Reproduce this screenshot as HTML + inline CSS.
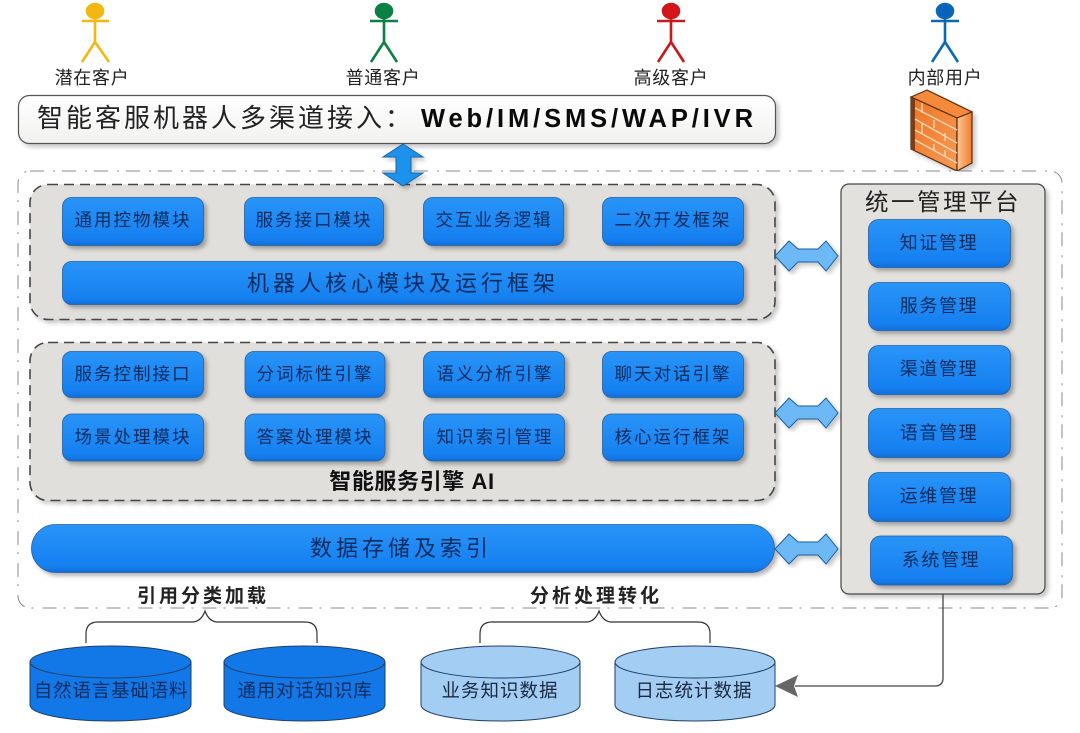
<!DOCTYPE html>
<html lang="zh"><head><meta charset="utf-8"><title>智能客服机器人架构图</title>
<style>
html,body{margin:0;padding:0;background:#fff}
svg{display:block;filter:blur(.35px)}
text{font-family:"Liberation Sans","Noto Sans CJK SC",sans-serif;text-anchor:middle}
.b{fill:url(#blue);stroke:#2a5f9c;stroke-width:.8;filter:url(#sh)}
.t{font-size:17.5px;letter-spacing:2px;fill:#0b2c60}
.m{font-size:18px;letter-spacing:1.6px;fill:#0b2c60}
.a{font-size:18px;letter-spacing:.7px;fill:#222}
.h{font-size:19px;font-weight:700;letter-spacing:3px;fill:#222}
.c{font-size:18.500px;letter-spacing:.8px;fill:#0b2c60}
.d{font-size:18.500px;letter-spacing:1px;fill:#1a2a40}
.g{fill:#e0dfdb;stroke:#444;stroke-width:1.6;stroke-dasharray:10 6;filter:url(#sh2)}
.ar{fill:#6cb9f5;stroke:#1d5f9c;stroke-width:1;filter:url(#sh2)}
</style></head><body>
<svg width="1080" height="733" viewBox="0 0 1080 733" xmlns="http://www.w3.org/2000/svg">
<defs>
<linearGradient id="blue" x1="0" y1="0" x2="0" y2="1"><stop offset="0" stop-color="#2994f8"/><stop offset=".85" stop-color="#1680f0"/><stop offset="1" stop-color="#0f6fdc"/></linearGradient>
<linearGradient id="white" x1="0" y1="0" x2="0" y2="1"><stop offset="0" stop-color="#fff"/><stop offset="1" stop-color="#f1f1f0"/></linearGradient>
<linearGradient id="fw" x1="0" y1="0" x2="1" y2="1"><stop offset="0" stop-color="#ee7422"/><stop offset="1" stop-color="#f79a55"/></linearGradient>
<linearGradient id="fwr" x1="0" y1="0" x2="1" y2="0"><stop offset="0" stop-color="#fcc79a"/><stop offset="1" stop-color="#f07c28"/></linearGradient>
<filter id="sh" x="-10%" y="-15%" width="125%" height="140%"><feDropShadow dx="3" dy="3" stdDeviation="2" flood-color="#000" flood-opacity=".3"/></filter>
<filter id="sh2" x="-10%" y="-10%" width="125%" height="125%"><feDropShadow dx="3" dy="3" stdDeviation="2" flood-color="#000" flood-opacity=".22"/></filter>
</defs>

<!-- actors -->
<g fill="none" stroke-width="2.6">
<g stroke="#f2b713"><ellipse cx="95" cy="11" rx="8" ry="7" fill="#f2b713"/><path d="M79 21H106M92 17V42L79 62M92 42L106 62" transform="translate(3 0) scale(1 1)"/></g>
<g stroke="#0a8043"><ellipse cx="384" cy="11" rx="8" ry="7" fill="#0a8043"/><path d="M370 21H398M384 17V42L371 62M384 42L397 62"/></g>
<g stroke="#c8171d"><ellipse cx="671" cy="11" rx="8" ry="7" fill="#d7141a"/><path d="M657 21H685M671 17V42L658 62M671 42L684 62"/></g>
<g stroke="#0b68b5"><ellipse cx="945" cy="11" rx="8" ry="7" fill="#0b62bd"/><path d="M931 21H959M945 17V42L932 62M945 42L958 62"/></g>
</g>
<text class="a" x="92" y="84">潜在客户</text>
<text class="a" x="383" y="84">普通客户</text>
<text class="a" x="671" y="84">高级客户</text>
<text class="a" x="945" y="84">内部用户</text>

<!-- top bar -->
<rect x="18.5" y="95.5" width="757" height="48" rx="11" fill="url(#white)" stroke="#555" stroke-width="1.2" filter="url(#sh2)"/>
<text x="37" y="127" style="text-anchor:start;font-size:26px;letter-spacing:3px;fill:#222">智能客服机器人多渠道接入：</text>
<text x="421" y="127" textLength="332" lengthAdjust="spacing" style="text-anchor:start;font-size:25.500px;font-weight:700;fill:#0a0a0a">Web/IM/SMS/WAP/IVR</text>

<!-- firewall -->
<g filter="url(#sh2)">
<polygon points="911,97 927,90 972,112 957,118" fill="#f58a3c" stroke="#5a2c0d" stroke-width="1.200"/>
<polygon points="911,97 957,118 957,171 911,149" fill="url(#fw)" stroke="#5a2c0d" stroke-width="1.200"/>
<polygon points="911,97 915,99 915,151 911,149" fill="#7a3d12"/>
<polygon points="957,118 972,112 972,163 957,171" fill="url(#fwr)" stroke="#5a2c0d" stroke-width="1.200"/>
<path d="M915 108L957 130M915 119L957 143M915 130L957 153M915 140L957 163M922 103L922 113M934 120L934 128M945 133L945 141M922 123L922 133M934 144L934 150M945 150L945 157" stroke="#fdd9ba" stroke-width="1.300" fill="none"/>
</g>

<!-- outer dashed container -->
<rect x="18" y="171" width="1044" height="437" rx="12" fill="#fff" stroke="#888" stroke-width="1" stroke-dasharray="14 9 2 7"/>

<!-- groups -->
<rect class="g" x="30" y="184.500" width="745" height="135" rx="18"/>
<rect class="g" x="30" y="342.500" width="745" height="158" rx="18"/>

<!-- vertical double arrow -->
<polygon points="403,144 423,157 411,157 411,173 423,173 403,186 383,173 396,173 396,157 383,157" fill="#1b92ec" stroke="#1465a8" stroke-width="1" filter="url(#sh2)"/>

<!-- row 1 -->
<rect class="b" x="62.500" y="197.500" width="141" height="48" rx="9"/>
<rect class="b" x="244.500" y="197.500" width="139" height="48" rx="9"/>
<rect class="b" x="423.500" y="197.500" width="140" height="48" rx="9"/>
<rect class="b" x="602.500" y="197.500" width="141" height="48" rx="9"/>
<text class="t" x="133" y="226">通用控物模块</text>
<text class="t" x="314" y="226">服务接口模块</text>
<text class="t" x="494" y="226">交互业务逻辑</text>
<text class="t" x="673" y="226">二次开发框架</text>
<rect class="b" x="62.500" y="261.500" width="681" height="43" rx="9"/>
<text x="403" y="291" style="font-size:22px;letter-spacing:4px;fill:#0b2c60">机器人核心模块及运行框架</text>

<!-- row 2 -->
<rect class="b" x="62.500" y="351.500" width="141" height="46" rx="9"/>
<rect class="b" x="245" y="351.500" width="140" height="46" rx="9"/>
<rect class="b" x="423.500" y="351.500" width="141" height="46" rx="9"/>
<rect class="b" x="602.500" y="351.500" width="141" height="46" rx="9"/>
<text class="t" x="133" y="380">服务控制接口</text>
<text class="t" x="315" y="380">分词标性引擎</text>
<text class="t" x="495" y="380">语义分析引擎</text>
<text class="t" x="673" y="380">聊天对话引擎</text>
<!-- row 3 -->
<rect class="b" x="62.500" y="414" width="141" height="47" rx="9"/>
<rect class="b" x="245" y="414" width="140" height="47" rx="9"/>
<rect class="b" x="423.500" y="414" width="141" height="47" rx="9"/>
<rect class="b" x="602.500" y="414" width="141" height="47" rx="9"/>
<text class="t" x="133" y="443">场景处理模块</text>
<text class="t" x="315" y="443">答案处理模块</text>
<text class="t" x="495" y="443">知识索引管理</text>
<text class="t" x="673" y="443">核心运行框架</text>
<text x="412" y="489" style="font-size:22px;font-weight:700;letter-spacing:.6px;fill:#111">智能服务引擎 AI</text>

<!-- data bar -->
<rect class="b" x="31.500" y="524.500" width="743" height="48" rx="24"/>
<text x="401" y="556" style="font-size:22px;letter-spacing:4px;fill:#0b2c60">数据存储及索引</text>

<!-- horizontal arrows -->
<polygon class="ar" points="775,256 789,241 798,249 818,249 826,241 838,256 826,271 818,262 798,262 789,271"/>
<polygon class="ar" points="775,413 789,398 798,406 818,406 826,398 838,413 826,428 818,419 798,419 789,428"/>
<polygon class="ar" points="775,549 789,534 798,542 818,542 826,534 838,549 826,564 818,555 798,555 789,564"/>

<!-- management panel -->
<rect x="841" y="184" width="204" height="410" rx="8" fill="#e2e1de" stroke="#444" stroke-width="1.200" filter="url(#sh2)"/>
<text x="943" y="210" style="font-size:23.500px;letter-spacing:2.500px;fill:#222">统一管理平台</text>
<rect class="b" x="868.500" y="219.500" width="142" height="48" rx="10"/>
<rect class="b" x="868.500" y="282.500" width="142" height="48" rx="10"/>
<rect class="b" x="868.500" y="345.500" width="142" height="49" rx="10"/>
<rect class="b" x="868.500" y="408.500" width="142" height="49" rx="10"/>
<rect class="b" x="868.500" y="472.500" width="142" height="49" rx="10"/>
<rect class="b" x="870.500" y="536" width="142" height="49" rx="10"/>
<text class="m" x="939" y="249">知证管理</text>
<text class="m" x="939" y="312">服务管理</text>
<text class="m" x="939" y="375">渠道管理</text>
<text class="m" x="939" y="439">语音管理</text>
<text class="m" x="939" y="502">运维管理</text>
<text class="m" x="941" y="566">系统管理</text>

<!-- group labels and braces -->
<text class="h" x="203" y="602">引用分类加载</text>
<text class="h" x="596" y="602">分析处理转化</text>
<g fill="none" stroke="#333" stroke-width="1.200">
<path d="M86 643V634Q86 622 98 622H192Q201 622 205 611Q209 622 218 622H305Q317 622 317 634V643"/>
<path d="M480 643V634Q480 622 492 622H586Q595 622 599 611Q603 622 612 622H698Q710 622 710 634V643"/>
</g>

<!-- cylinders -->
<g stroke="#1f3f66" stroke-width="1">
<path d="M30 662V705C30 714 66 721 110.500 721S191 714 191 705V662Z" fill="#1278e8"/>
<ellipse cx="110.500" cy="662" rx="80.500" ry="16" fill="#1278e8"/>
<path d="M224 662V705C224 714 260 721 304.500 721S385 714 385 705V662Z" fill="#1278e8"/>
<ellipse cx="304.500" cy="662" rx="80.500" ry="16" fill="#1278e8"/>
<path d="M421 662V705C421 714 457 721 500.500 721S580 714 580 705V662Z" fill="#a3cdf3"/>
<ellipse cx="500.500" cy="662" rx="79.500" ry="16" fill="#a3cdf3"/>
<path d="M615 662V705C615 714 651 721 695 721S775 714 775 705V662Z" fill="#a3cdf3"/>
<ellipse cx="695" cy="662" rx="80" ry="16" fill="#a3cdf3"/>
</g>
<text class="c" x="111" y="697">自然语言基础语料</text>
<text class="c" x="305" y="697">通用对话知识库</text>
<text class="d" x="500" y="697">业务知识数据</text>
<text class="d" x="694" y="697">日志统计数据</text>

<!-- connector -->
<path d="M943 594V678Q943 686 935 686H795" fill="none" stroke="#444" stroke-width="1.300"/>
<polygon points="775,686 798,675 794,686 798,697" fill="#666"/>
</svg>
</body></html>
